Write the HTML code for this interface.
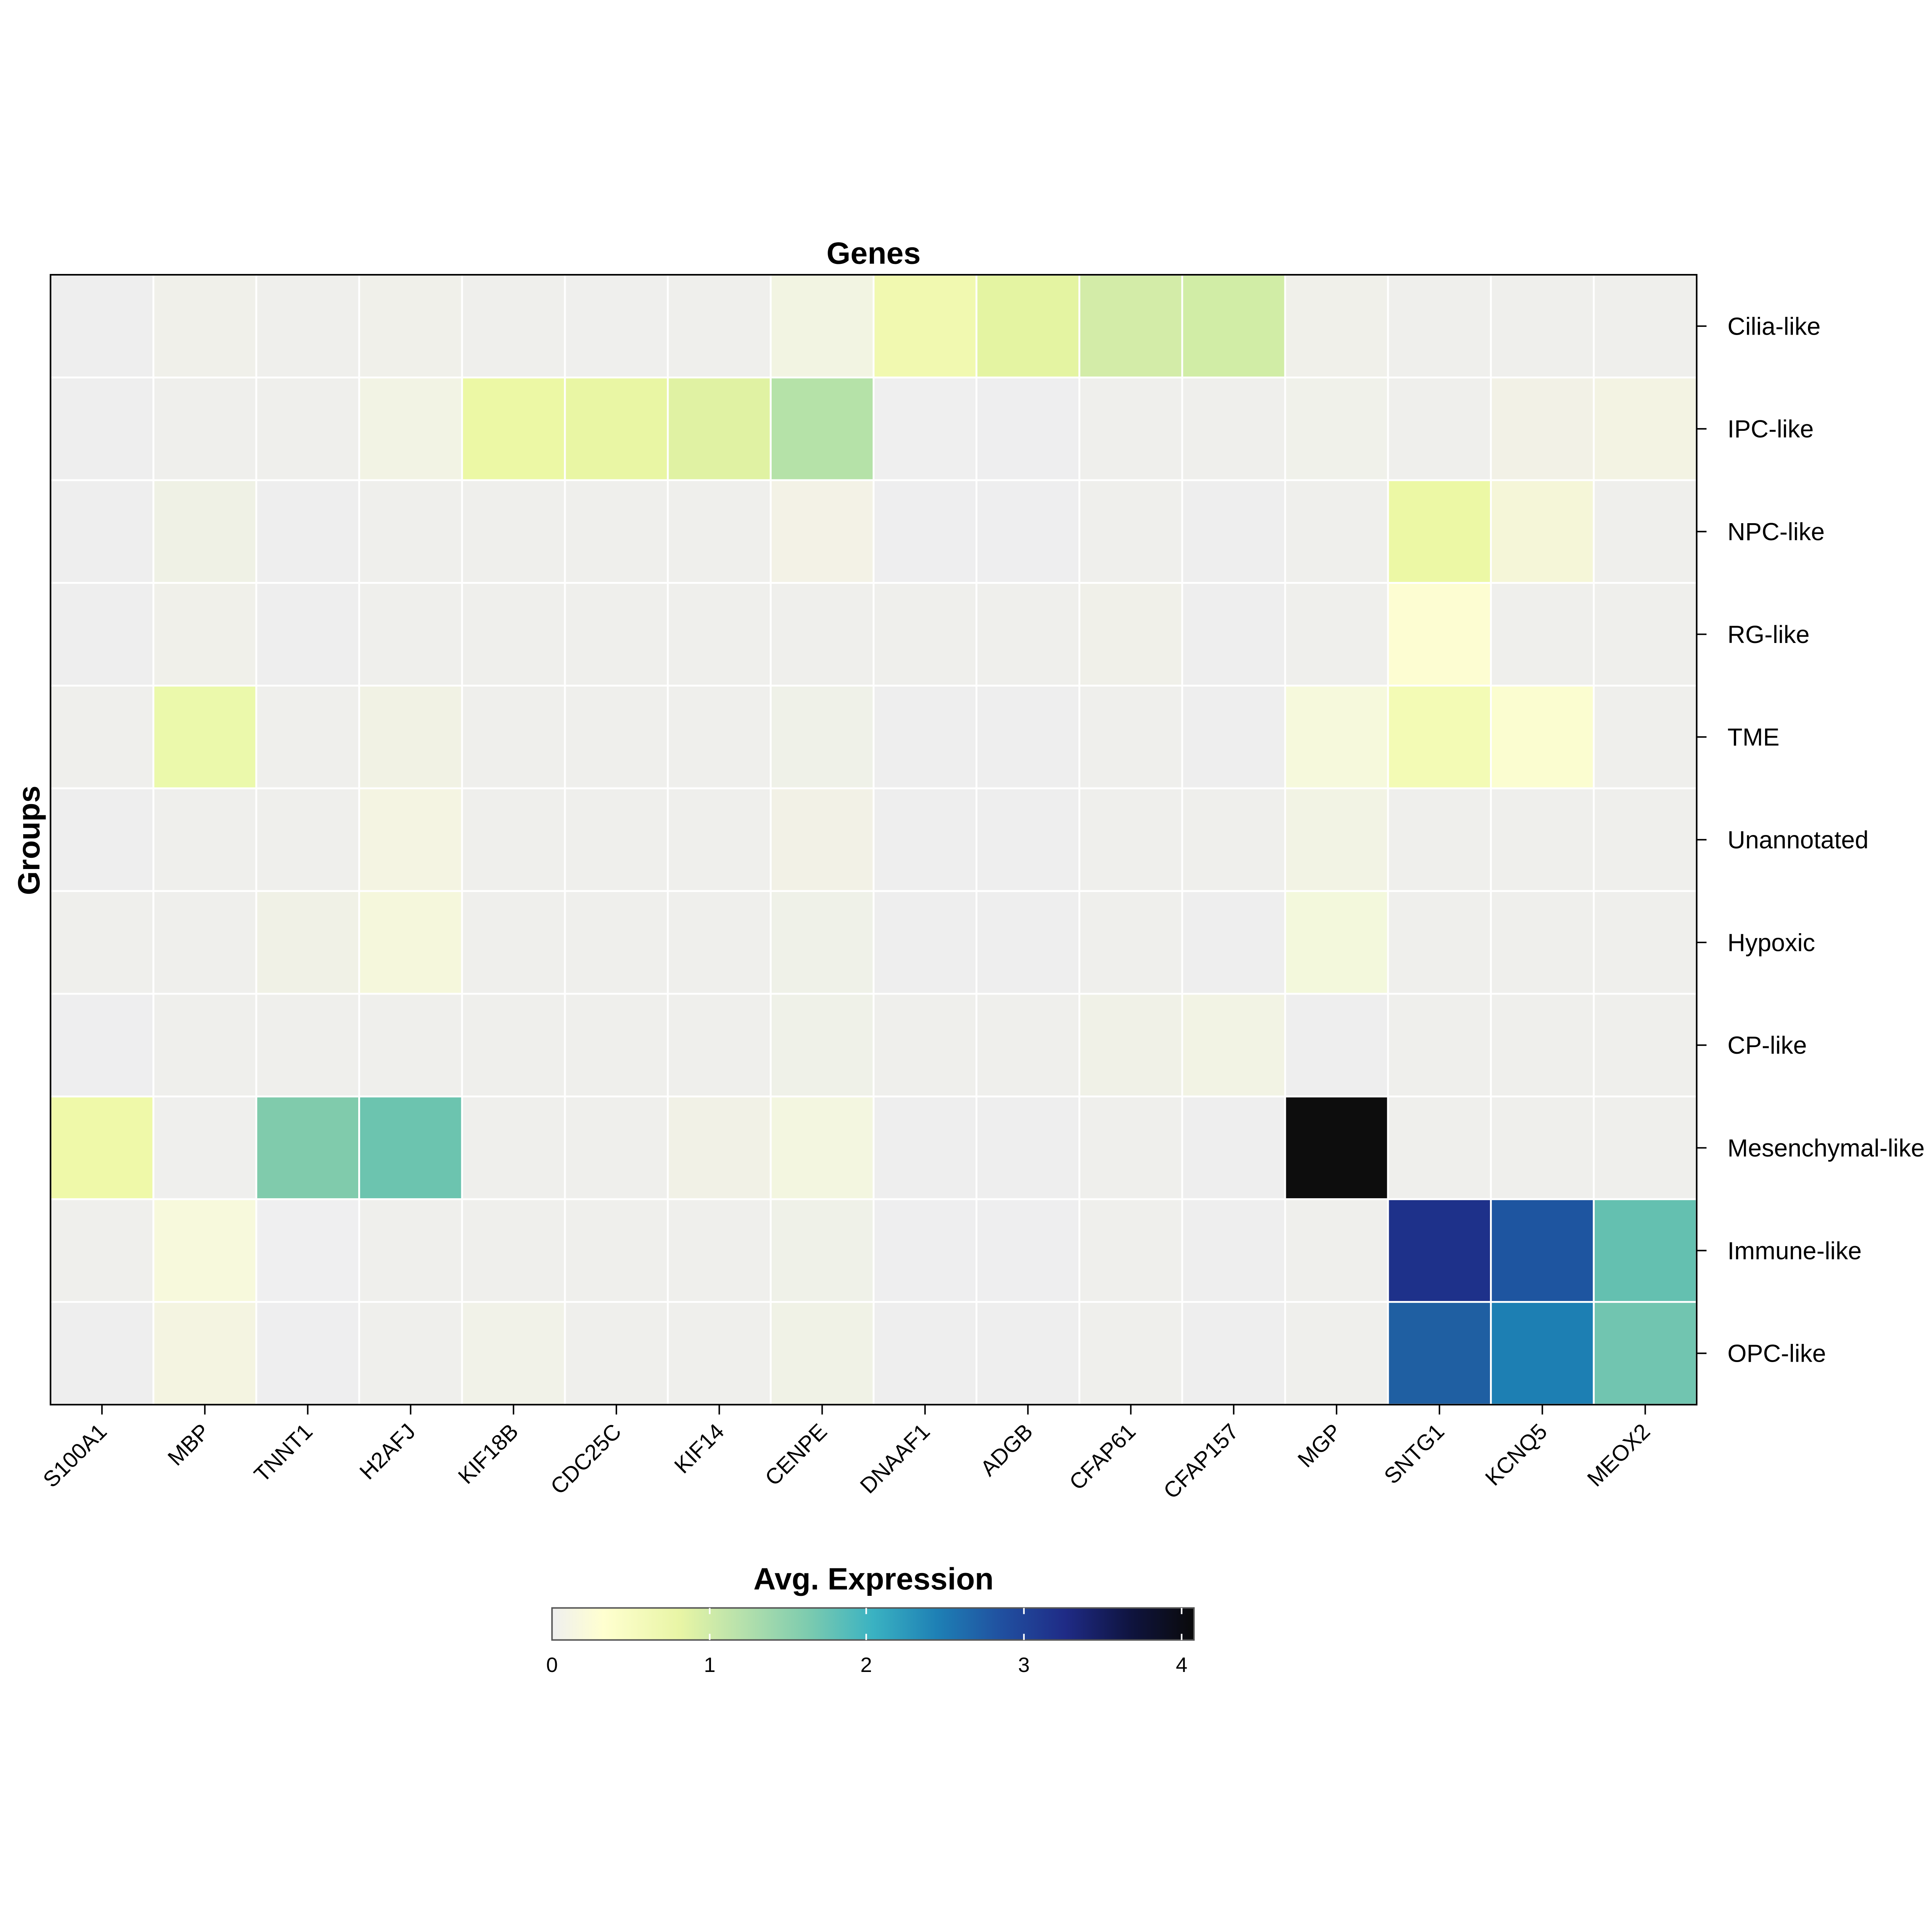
<!DOCTYPE html>
<html><head><meta charset="utf-8"><style>html,body{margin:0;padding:0;background:#fff;overflow:hidden;width:100vw;height:100vh}svg{display:block;width:100vw;height:100vh}</style></head>
<body>
<svg viewBox="0 0 1568 1568" preserveAspectRatio="xMidYMid meet" xmlns="http://www.w3.org/2000/svg" font-family="Liberation Sans, Arial, sans-serif">
<defs>
<linearGradient id="cb" x1="0" x2="1" y1="0" y2="0">
<stop offset="0" stop-color="#efefef"/>
<stop offset="0.08" stop-color="#ffffd0"/>
<stop offset="0.2" stop-color="#e8f5a5"/>
<stop offset="0.3" stop-color="#b4e0ac"/>
<stop offset="0.4" stop-color="#7ccbaf"/>
<stop offset="0.5" stop-color="#3ab2c2"/>
<stop offset="0.6" stop-color="#1e80b5"/>
<stop offset="0.7" stop-color="#2050a0"/>
<stop offset="0.8" stop-color="#1f2b86"/>
<stop offset="0.9" stop-color="#0f1440"/>
<stop offset="1" stop-color="#0a0a0a"/>
</linearGradient>
</defs>
<rect width="1568" height="1568" fill="#fff"/>
<g id="cells" stroke="#fff" stroke-width="1.5"></g>
<rect x="41" y="223" width="1336" height="917" fill="none" stroke="#000" stroke-width="1.3"/>
<text x="709" y="214" font-size="25" font-weight="bold" text-anchor="middle">Genes</text>
<text transform="translate(32,682) rotate(-90)" font-size="25" font-weight="bold" text-anchor="middle">Groups</text>
<g id="ticks" stroke="#000" stroke-width="1.2"></g>
<g id="labels"></g>
<text x="709" y="1290" font-size="25" font-weight="bold" text-anchor="middle">Avg. Expression</text>
<rect x="448" y="1305" width="521" height="26" fill="url(#cb)" stroke="#555" stroke-width="1.2"/>
<g stroke="#fff" stroke-width="1.3">
<line x1="576" y1="1305" x2="576" y2="1310"/><line x1="576" y1="1326" x2="576" y2="1331"/>
<line x1="703" y1="1305" x2="703" y2="1310"/><line x1="703" y1="1326" x2="703" y2="1331"/>
<line x1="831" y1="1305" x2="831" y2="1310"/><line x1="831" y1="1326" x2="831" y2="1331"/>
<line x1="959" y1="1305" x2="959" y2="1310"/><line x1="959" y1="1326" x2="959" y2="1331"/>
</g>
<g font-size="17" text-anchor="middle">
<text x="448" y="1357">0</text><text x="576" y="1357">1</text><text x="703" y="1357">2</text><text x="831" y="1357">3</text><text x="959" y="1357">4</text>
</g>
<script>
var genes=["S100A1","MBP","TNNT1","H2AFJ","KIF18B","CDC25C","KIF14","CENPE","DNAAF1","ADGB","CFAP61","CFAP157","MGP","SNTG1","KCNQ5","MEOX2"];
var rows=["Cilia-like","IPC-like","NPC-like","RG-like","TME","Unannotated","Hypoxic","CP-like","Mesenchymal-like","Immune-like","OPC-like"];
var D="#efefec";
var C=[
["#eeeeee","#f0f0ea",D,"#f0f0ea",D,"#efefed",D,"#f2f4e2","#f1f9b0","#e4f4a2","#d3eca8","#d1eda6","#f0f0ea",D,D,D],
["#eeeeee",D,D,"#f2f3e4","#ecf8a5","#e9f6a4","#e0f2a3","#b5e2a8","#efefef","#eeeeef",D,D,"#f0f1ea",D,"#f2f1e6","#f3f3e3"],
["#eeeeee","#eff1e5","#eeeeee",D,D,D,D,"#f3f2e6","#eeeeef","#eeeeef",D,"#eeeeee",D,"#ecf8a5","#f5f6d8",D],
["#eeeeee","#f0f0ea","#eeeeee",D,D,D,D,D,D,D,"#f0f0e9","#eeeeee",D,"#fdfdd2",D,D],
[D,"#ebf9ab",D,"#f1f2e4",D,D,D,"#eff1e8","#eeeeee","#eeeeee",D,"#eeeeee","#f6f9dc","#f3fbb5","#fbfdd0",D],
["#eeeeee",D,D,"#f4f4e2",D,D,D,"#f2f1e6","#eeeeee","#eeeeee",D,D,"#f2f3e4",D,D,D],
[D,D,"#f0f1e6","#f5f7dc",D,D,D,"#eff1e8","#eeeeee","#eeeeee",D,"#eeeeee","#f3f8dc",D,D,D],
["#eeeeef",D,D,D,D,D,D,"#eff1e8",D,D,"#f0f1e7","#f2f3e4","#eeeeee",D,D,D],
["#eff9a9","#efefed","#80cbac","#6cc4af",D,D,"#f1f1e6","#f3f6e0","#eeeeee","#eeeeee",D,"#eeeeee","#0d0d0d",D,D,D],
[D,"#f7f9dc","#efeff0",D,D,D,D,"#eff1e8","#eeeeef","#eeeeef",D,"#eeeeee",D,"#1e318a","#1e55a0","#64c0b0"],
["#eeeeee","#f4f4e1","#eeeeef",D,"#f1f2e8",D,D,"#f0f2e6","#eeeeee","#eeeeee",D,"#eeeeee",D,"#1f5fa2","#1d7fb3","#71c5b0"]
];
var ns="http://www.w3.org/2000/svg";
var x0=41,y0=223,cw=1336/16,ch=917/11;
var cells=document.getElementById("cells"),ticks=document.getElementById("ticks"),lab=document.getElementById("labels");
function el(t,a,p){var e=document.createElementNS(ns,t);for(var k in a)e.setAttribute(k,a[k]);p.appendChild(e);return e;}
for(var r=0;r<11;r++)for(var c=0;c<16;c++)el("rect",{x:x0+c*cw,y:y0+r*ch,width:cw,height:ch,fill:C[r][c]},cells);
for(var c=0;c<16;c++){var cx=x0+(c+0.5)*cw;el("line",{x1:cx,y1:1140,x2:cx,y2:1148},ticks);
var t=el("text",{transform:"translate("+(cx+5)+",1163) rotate(-45)","text-anchor":"end","font-size":"18"},lab);t.textContent=genes[c];}
for(var r=0;r<11;r++){var cy=y0+(r+0.5)*ch;el("line",{x1:1377,y1:cy,x2:1385,y2:cy},ticks);
var t=el("text",{x:1402,y:cy+7,"font-size":"20"},lab);t.textContent=rows[r];}
</script>
</svg>
</body></html>
